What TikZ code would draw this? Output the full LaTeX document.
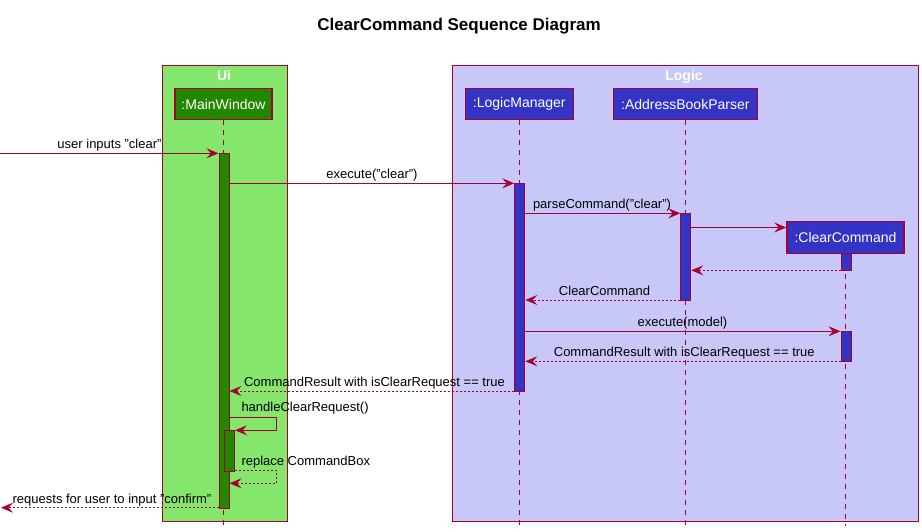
\documentclass[tikz,border=0pt]{standalone}
\usepackage{fontspec}
\setmainfont{Liberation Sans}
\usetikzlibrary{arrows.meta}
\definecolor{crim}{RGB}{168,0,54}
\definecolor{uifill}{RGB}{132,230,107}
\definecolor{logicfill}{RGB}{200,200,248}
\definecolor{partg}{RGB}{34,136,0}
\definecolor{partb}{RGB}{51,51,197}
\tikzset{
  grp/.style={draw=crim, line width=1pt, anchor=north west, inner sep=0pt},
  grptitle/.style={text=white, font=\fontsize{14}{16}\selectfont\bfseries, anchor=base},
  part/.style={draw=crim, line width=1.4pt, text=white, inner sep=0pt, minimum height=31pt, font=\fontsize{14}{16}\selectfont},
  lifeline/.style={draw=crim, line width=0.9pt, dash pattern=on 5pt off 5pt},
  actv/.style={draw=crim, line width=1pt, anchor=north west, inner sep=0pt, minimum width=10pt},
  msg/.style={draw=crim, line width=0.9pt, -{Stealth[length=12pt,width=10pt,inset=4.5pt]}},
  ret/.style={msg, dash pattern=on 2pt off 2pt},
  lbl/.style={font=\fontsize{13}{15}\selectfont, anchor=base, inner sep=0pt},
  lbll/.style={lbl, anchor=base west},
}
\begin{document}
\begin{tikzpicture}[x=1pt,y=-1pt]
\useasboundingbox (0,0) rectangle (922,532);
% title
\node[font=\fontsize{17}{20}\selectfont\bfseries, anchor=base, inner sep=0pt] (title) at (459,31) {ClearCommand Sequence Diagram};
% group boxes
\node[grp, fill=uifill, minimum width=125pt, minimum height=455pt] (ui) at (161.5,65.5) {};
\node[grp, fill=logicfill, minimum width=466pt, minimum height=455pt] (logic) at (451.5,65.5) {};
\node[grptitle] (uit) at (224,81) {Ui};
\node[grptitle] (logict) at (684,81) {Logic};
% participants
\node[part, fill=partg, minimum width=97pt] (mw) at (223.5,104) {:MainWindow};
\node[part, fill=partb, minimum width=108pt] (lm) at (519.3,104) {:LogicManager};
\node[part, fill=partb, minimum width=144pt] (abp) at (685.3,104) {:AddressBookParser};
\node[part, fill=partb, minimum width=117pt, minimum height=32pt] (cc) at (845.5,237.3) {:ClearCommand};
% lifeline ends
\coordinate (mwE) at (223.5,526);
\coordinate (lmE) at (519.3,526);
\coordinate (abpE) at (685.3,526);
\coordinate (ccE) at (845.5,526);
\draw[lifeline] (mw.south) -- (mwE);
\draw[lifeline] (lm.south) -- (lmE);
\draw[lifeline] (abp.south) -- (abpE);
\draw[lifeline] (cc.south) -- (ccE);
% activations
\node[actv, fill=partg, minimum height=354.5pt] (mwA) at (218.5,153.3) {};
\node[actv, fill=partg, minimum height=40.5pt] (mwB) at (224,430.3) {};
\node[actv, fill=partb, minimum height=207.7pt] (lmA) at (514.3,183.3) {};
\node[actv, fill=partb, minimum height=86.7pt] (abpA) at (680.3,213.3) {};
\node[actv, fill=partb, minimum height=17pt] (ccA) at (840.5,253.3) {};
\node[actv, fill=partb, minimum height=30pt] (ccB) at (840.5,331.3) {};
% message levels
\coordinate (inL) at (0,153.3);
\coordinate (y2) at (0,183.3);
\coordinate (y3) at (0,213.3);
\coordinate (y4) at (0,227.5);
\coordinate (y5) at (0,270.3);
\coordinate (y6) at (0,300);
\coordinate (y7) at (0,331.3);
\coordinate (y8) at (0,361.3);
\coordinate (y9) at (0,391);
\coordinate (s1a) at (276.5,417.3);
\coordinate (s1b) at (276.5,430.3);
\coordinate (s2a) at (276.5,470.3);
\coordinate (s2b) at (276.5,483.3);
\coordinate (outR) at (1,507.7);
% messages
\draw[msg] (inL) -- (mwA.west |- inL);
\node[lbl] (m1) at (109.5,148.3) {user inputs "clear"};
\draw[msg] (mwA.east |- y2) -- (lmA.west |- y2);
\node[lbl] (m2) at (372,178.8) {execute("clear")};
\draw[msg] (lmA.east |- y3) -- (abpA.west |- y3);
\node[lbl] (m3) at (602,208.8) {parseCommand("clear")};
\draw[msg] (abpA.east |- y4) -- (cc.west |- y4);
\draw[ret] (ccA.west |- y5) -- (abpA.east |- y5);
\draw[ret] (abpA.west |- y6) -- (lmA.east |- y6);
\node[lbl] (m6) at (604.5,295.5) {ClearCommand};
\draw[msg] (lmA.east |- y7) -- (ccB.west |- y7);
\node[lbl] (m7) at (682.5,326.8) {execute(model)};
\draw[ret] (ccB.west |- y8) -- (lmA.east |- y8);
\node[lbl] (m8) at (684.3,356.8) {CommandResult with isClearRequest == true};
\draw[ret] (lmA.west |- y9) -- (mwA.east |- y9);
\node[lbl] (m9) at (374.5,386.6) {CommandResult with isClearRequest == true};
\draw[msg] (mwA.east |- s1a) -- (s1a) -- (s1b) -- (mwB.east |- s1b);
\node[lbll] (m10) at (241.3,411.8) {handleClearRequest()};
\draw[ret] (mwB.east |- s2a) -- (s2a) -- (s2b) -- (mwA.east |- s2b);
\node[lbll] (m11) at (241.3,465.8) {replace CommandBox};
\draw[ret] (mwA.west |- outR) -- (outR);
\node[lbl] (m12) at (112,503.3) {requests for user to input "confirm"};
\end{tikzpicture}
\end{document}
